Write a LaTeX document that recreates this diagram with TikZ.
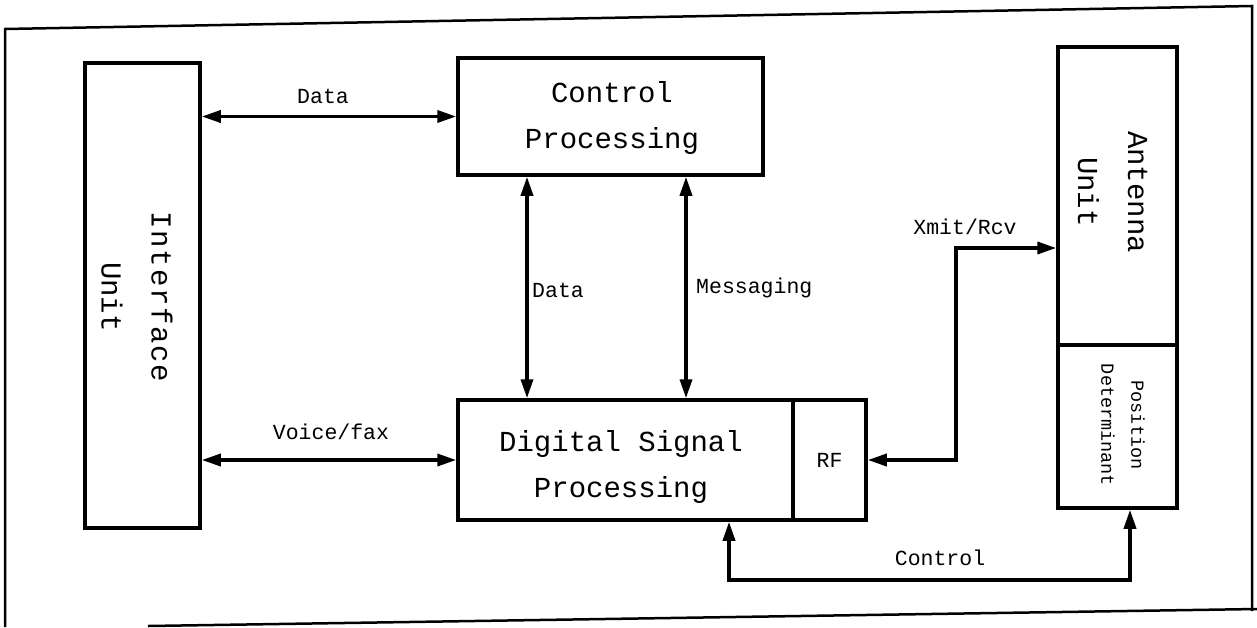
\documentclass[tikz,border=0pt]{standalone}
\usepackage{fontspec}
\newfontfamily\plot{Liberation Mono}
\usetikzlibrary{arrows.meta}
\begin{document}
\begin{tikzpicture}[x=1pt,y=-1pt,
  blk/.style={draw,line width=3.5pt,inner sep=0pt},
  outline/.style={line width=2.5pt},
  arr/.style={line width=3.5pt,{Triangle[length=19pt,width=12pt]}-{Triangle[length=19pt,width=12pt]}},
  bigtxt/.style={font=\plot\fontsize{29}{46}\selectfont,align=center,inner sep=0pt},
  sidetxt/.style={font=\plot\fontsize{29}{50}\selectfont,align=center,inner sep=0pt,rotate=-90},
  smalltxt/.style={font=\plot\fontsize{21.5}{26}\selectfont,inner sep=0pt},
  postxt/.style={font=\plot\fontsize{18.5}{30}\selectfont,align=center,inner sep=0pt,rotate=-90}]
\useasboundingbox (0,0) rectangle (1257,627);
% outer frame
\coordinate (f1) at (5,627);
\coordinate (f2) at (5,29);
\coordinate (f3) at (1252,6);
\coordinate (f4) at (1252,611);
\coordinate (f5) at (148,626);
\coordinate (f6) at (1257,609);
\draw[outline] (f1) -- (f2) -- (f3) -- (f4);
\draw[outline] (f5) -- (f6);
% boxes
\node[blk,minimum width=115pt,minimum height=465pt] (iu) at (142.5,295.5) {};
\node[blk,minimum width=305pt,minimum height=117pt] (cp) at (610.5,116.5) {};
\node[blk,minimum width=335pt,minimum height=120pt] (dsp) at (625.5,460) {};
\node[blk,minimum width=73pt,minimum height=120pt] (rf) at (829.5,460) {};
\node[blk,minimum width=119pt,minimum height=298pt] (au) at (1117.5,196) {};
\node[blk,minimum width=119pt,minimum height=163pt] (pd) at (1117.5,426.5) {};
% box texts
\node[sidetxt] (iut) at (137,297) {\addfontfeature{LetterSpace=6}Interface\\Unit};
\node[bigtxt] (cpt) at (612,118) {Control\\Processing};
\node[bigtxt] (dspt) at (621,467) {Digital Signal\\Processing};
\node[smalltxt] (rft) at (rf.center) {RF};
\node[sidetxt] (aut) at (1112.5,192) {Antenna\\Unit};
\node[postxt] (pdt) at (1123,425) {Position\\Determinant};
% helper coordinates
\coordinate (dx) at (527,0);
\coordinate (mx) at (686,0);
\coordinate (xt) at (956,248);
\coordinate (cb) at (729,580);
\coordinate (ce) at (1130,580);
% connectors
\draw[arr] (cp.west -| iu.east) -- (cp.west);
\draw[arr] (dsp.west -| iu.east) -- (dsp.west);
\draw[arr] (cp.south -| dx) -- (dsp.north -| dx);
\draw[arr] (cp.south -| mx) -- (dsp.north -| mx);
\draw[arr] (rf.east) -| (xt) -- (xt -| au.west);
\draw[arr] (cb |- dsp.south) -- (cb) -- (ce) -- (ce |- pd.south);
% labels
\node[smalltxt] (l1) at (323,96) {Data};
\node[smalltxt] (l2) at (331,432) {Voice/fax};
\node[smalltxt,anchor=west] (l3) at (532,290) {Data};
\node[smalltxt,anchor=west] (l4) at (696,288) {Messaging};
\node[smalltxt] (l5) at (965,227) {Xmit/Rcv};
\node[smalltxt] (l6) at (940,558) {Control};
\end{tikzpicture}
\end{document}
